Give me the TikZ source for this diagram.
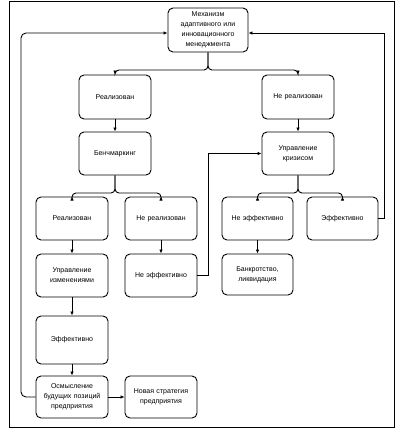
\documentclass[tikz,border=0pt]{standalone}
\usepackage{fontspec}
\setmainfont{Liberation Sans}
\usetikzlibrary{arrows.meta}
\begin{document}
\begin{tikzpicture}[x=1pt,y=-1pt,
  box/.style={draw,line width=0.9pt,rounded corners=5pt,align=center,inner sep=1pt,
    font=\fontsize{7}{10}\selectfont,minimum width=72pt,minimum height=44pt,text width=68pt},
  conn/.style={line width=0.9pt},
  arr/.style={conn,-{Latex[length=4pt,width=3.5pt]}}]
\useasboundingbox (0,0) rectangle (405,428);
\draw[line width=0.9pt] (9,1) rectangle (394,427);
\node[box,minimum width=80pt,text width=76pt] (top) at (208,30) {Механизм\\адаптивного или\\инновационного\\менеджмента};
\node[box] (r1) at (115,97) {Реализован};
\node[box] (n1) at (298,97) {Не реализован};
\node[box,minimum height=43pt] (bench) at (115,153.5) {Бенчмаркинг};
\node[box,minimum height=43pt] (crisis) at (298,153.5) {Управление\\кризисом};
\node[box,minimum height=43pt] (r2) at (72,218.5) {Реализован};
\node[box,minimum height=43pt] (n2) at (161,218.5) {Не реализован};
\node[box,minimum width=71pt,minimum height=43pt] (ne3) at (257.5,218.5) {Не эффективно};
\node[box,minimum width=71pt,minimum height=43pt] (ef3) at (342.5,218.5) {Эффективно};
\node[box,minimum height=43pt] (upr) at (72,275.5) {Управление\\изменениями};
\node[box,minimum height=43pt] (ne2) at (161,275.5) {Не эффективно};
\node[box,minimum width=71pt,minimum height=41pt] (bank) at (257.5,274.5) {Банкротство,\\ликвидация};
\node[box,minimum height=48pt] (ef2) at (72,340) {Эффективно};
\node[box,minimum height=42pt] (osm) at (72,397) {Осмысление\\будущих позиций\\предприятия};
\node[box,minimum height=42pt] (nov) at (161,397) {Новая стратегия\\предприятия};
% branches
\draw[arr,rounded corners=4pt] (top.south) -- (208,70) -| (r1.north);
\draw[arr,rounded corners=4pt] (top.south) -- (208,70) -| (n1.north);
\draw[arr,rounded corners=4pt] (bench.south) -- (115,193) -| (r2.north);
\draw[arr,rounded corners=4pt] (bench.south) -- (115,193) -| (n2.north);
\draw[arr,rounded corners=4pt] (crisis.south) -- (298,193) -| (ne3.north);
\draw[arr,rounded corners=4pt] (crisis.south) -- (298,193) -| (ef3.north);
% straight
\draw[arr] (r1) -- (bench);
\draw[arr] (n1) -- (crisis);
\draw[arr] (r2) -- (upr);
\draw[arr] (n2) -- (ne2);
\draw[arr] (ne3) -- (bank);
\draw[arr] (upr) -- (ef2);
\draw[arr] (ef2) -- (osm);
\draw[arr] (osm) -- (nov);
% loops
\draw[arr] (ne2.east) -- (208,275.5) |- (crisis.west);
\draw[arr] (ef3.east) -- (384,218.5) |- (top.east |- 0,33);
\draw[arr,rounded corners=5pt] (osm.west) -- (21,397) |- (top.west |- 0,33);
\end{tikzpicture}
\end{document}
